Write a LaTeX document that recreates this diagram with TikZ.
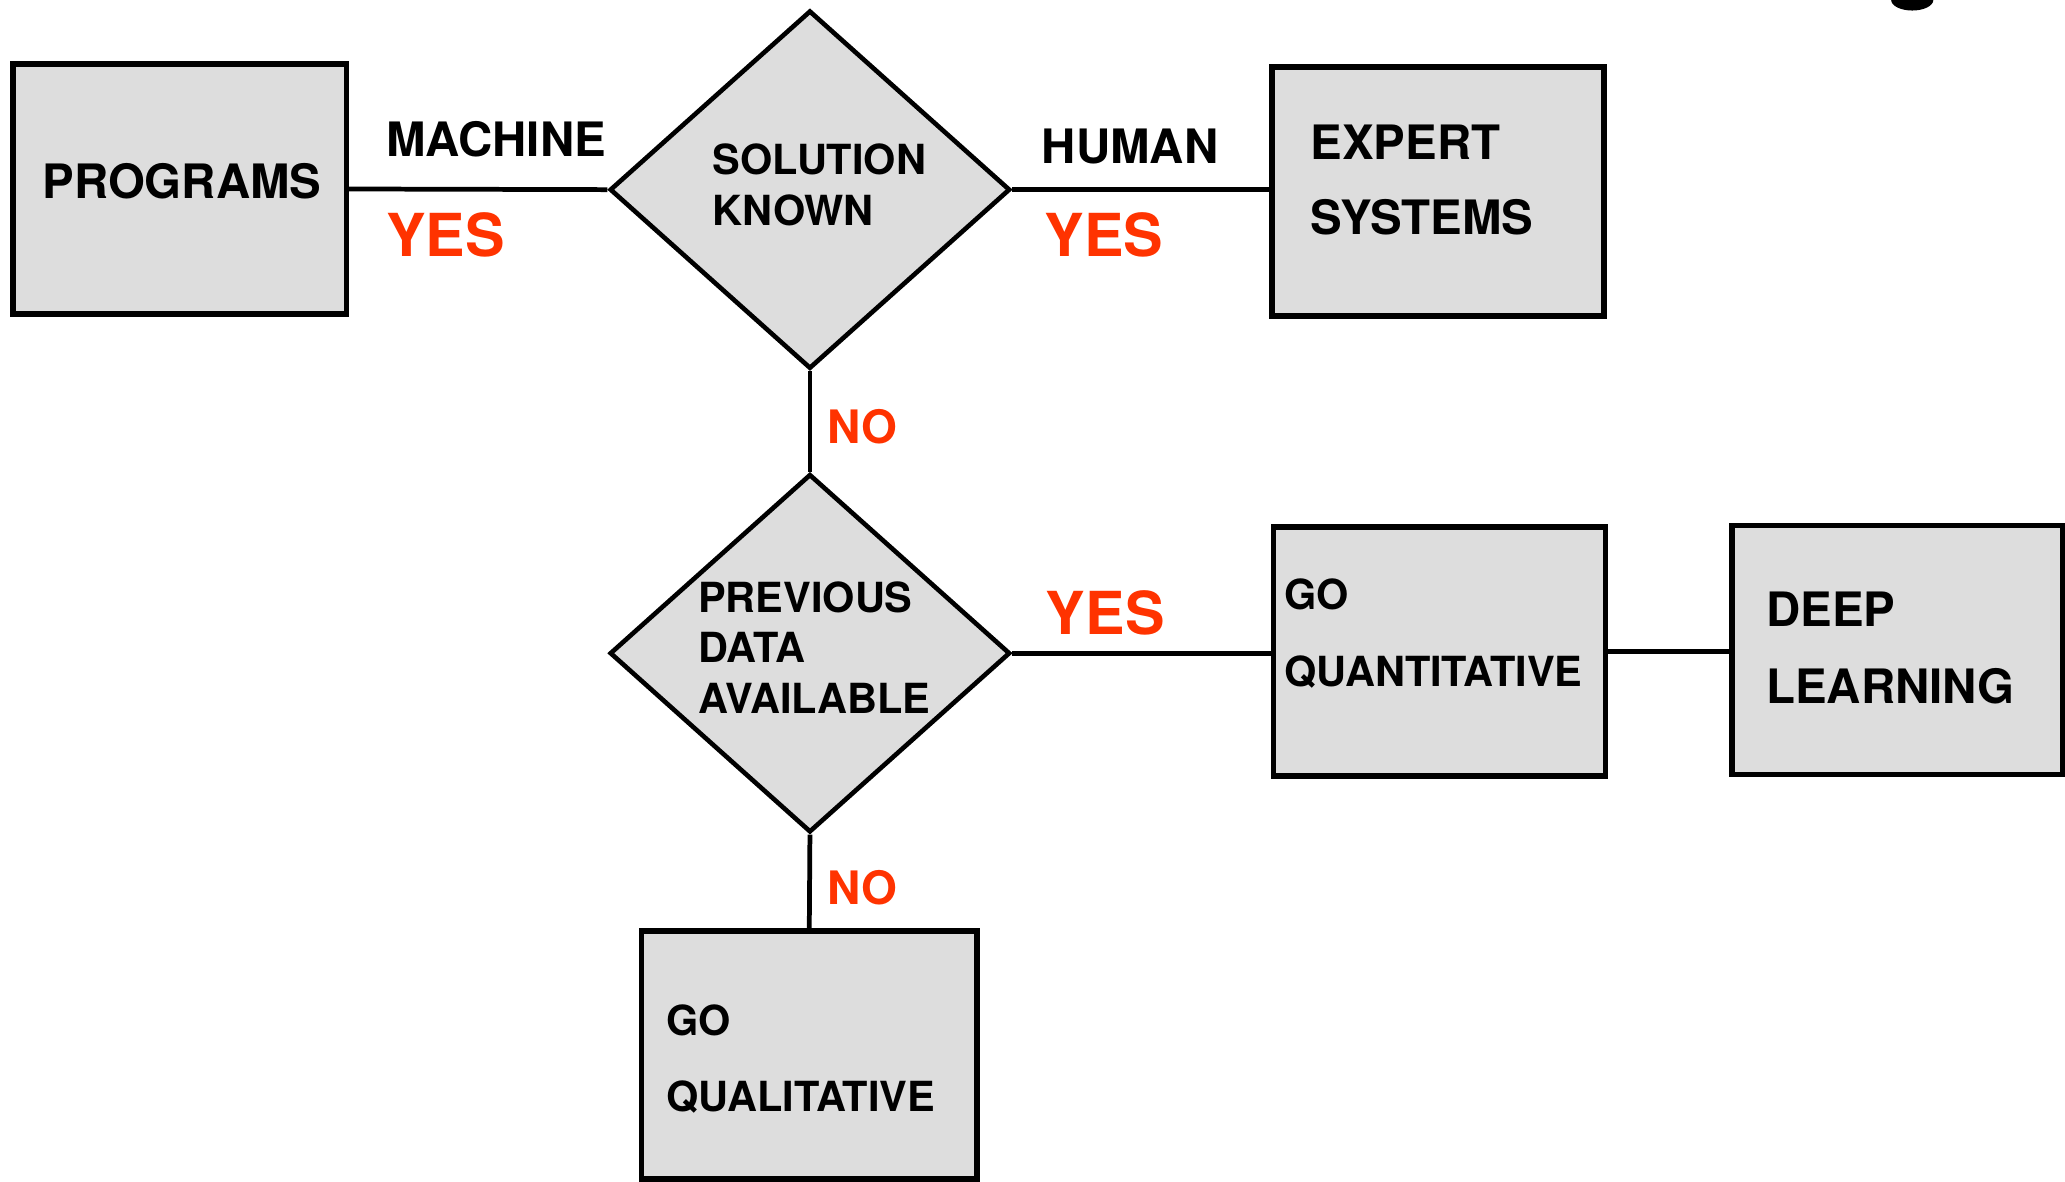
\documentclass[tikz,border=0pt]{standalone}
\usepackage{fontspec}
\setmainfont{TeX Gyre Heros}
\usetikzlibrary{shapes.geometric}
\definecolor{boxgray}{HTML}{DDDDDD}
\definecolor{answred}{HTML}{FF3300}
\tikzset{
  stepbox/.style={draw=black, line width=4.3pt, fill=boxgray, inner sep=0pt},
  decision/.style={diamond, draw=black, line width=3.5pt, fill=boxgray, inner sep=0pt},
  conn/.style={draw=black, line width=3.6pt},
  lbl/.style={inner sep=0pt, anchor=base west, font=\bfseries\fontsize{36}{40}\selectfont},
  small/.style={inner sep=0pt, anchor=base west, font=\bfseries\fontsize{31.5}{36}\selectfont},
  ans/.style={inner sep=0pt, anchor=base west, text=answred, font=\bfseries\fontsize{45}{50}\selectfont},
  no/.style={inner sep=0pt, anchor=base west, text=answred, font=\bfseries\fontsize{35}{40}\selectfont},
}
\begin{document}
\begin{tikzpicture}[x=1pt, y=-1pt]
\useasboundingbox (0,0) rectangle (1568,897);
% boxes
\node[stepbox, minimum width=253pt, minimum height=190pt] (prog) at (136.5,143.5) {};
\node[stepbox, minimum width=252pt, minimum height=189pt] (exp) at (1092,145.5) {};
\node[stepbox, minimum width=252pt, minimum height=189pt] (quant) at (1093,494.5) {};
\node[stepbox, minimum width=251pt, minimum height=189pt] (deep) at (1440.5,493.5) {};
\node[stepbox, minimum width=255pt, minimum height=188pt] (qual) at (614.5,801) {};
% decisions
\node[decision, minimum width=304pt, minimum height=272pt] (sol) at (615,144) {};
\node[decision, minimum width=304pt, minimum height=272pt] (prev) at (615,496) {};
% connectors
\draw[conn] (prog.east) -- (sol.west);
\draw[conn] (sol.east) -- (sol.east -| exp.west);
\draw[conn] (sol.south) -- (prev.north);
\draw[conn] (prev.east) -- (prev.east -| quant.west);
\draw[conn] (quant.east) -- (quant.east -| deep.west);
\draw[conn] (prev.south) -- (qual.north);
% texts
\node[lbl] (tprog) at (32,151) {PROGRAMS};
\node[lbl] (tmach) at (293,119) {MACHINE};
\node[ans] (yes1) at (293,195) {YES};
\node[small] (tsol1) at (541,132.5) {SOLUTION};
\node[small] (tsol2) at (541,171.5) {KNOWN};
\node[lbl] (thum) at (791,124) {HUMAN};
\node[ans] (yes2) at (793,195) {YES};
\node[lbl] (texp1) at (995,121) {EXPERT};
\node[lbl] (texp2) at (995,178) {SYSTEMS};
\node[no] (no1) at (628,336.5) {NO};
\node[small] (tprev1) at (530,465) {PREVIOUS};
\node[small] (tprev2) at (530,503) {DATA};
\node[small] (tprev3) at (530,542) {AVAILABLE};
\node[ans] (yes3) at (794,482) {YES};
\node[small] (tq1) at (975,463) {GO};
\node[small] (tq2) at (975,521) {QUANTITATIVE};
\node[lbl] (td1) at (1341,476) {DEEP};
\node[lbl] (td2) at (1341,534) {LEARNING};
\node[no] (no2) at (628,686.5) {NO};
\node[small] (tl1) at (506,786) {GO};
\node[small] (tl2) at (506,844) {QUALITATIVE};
% cut-off glyph at the top edge
\fill[black] (1436,0) arc[start angle=180, end angle=0, x radius=16, y radius=8] -- cycle;
\end{tikzpicture}
\end{document}
